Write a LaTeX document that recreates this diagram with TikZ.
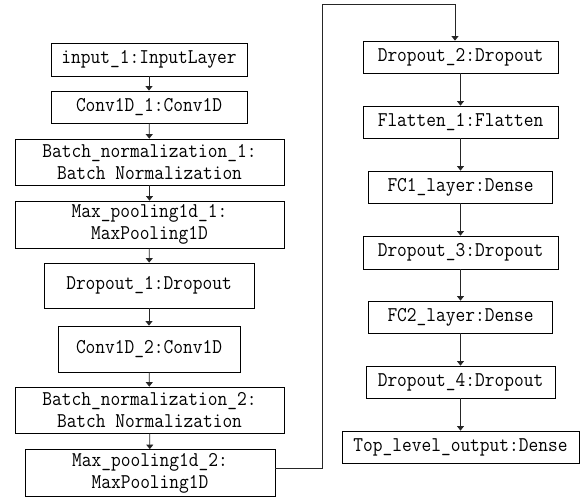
\documentclass[tikz,border=0pt]{standalone}
\usepackage{fontspec}
\newfontfamily\boxfont[FakeStretch=0.9]{Latin Modern Mono}
\usetikzlibrary{arrows.meta}
\begin{document}
\begin{tikzpicture}[x=1pt,y=-1pt,
  box/.style={draw=black, line width=0.8pt, inner sep=0pt, align=center,
    font=\boxfont\fontsize{21}{22}\selectfont},
  arr/.style={draw=black!85, line width=0.8pt, -{Triangle[length=4.5pt,width=7pt]}}]
\useasboundingbox (0,0) rectangle (583,498);
% left column
\node[box, minimum width=196, minimum height=33] (l1) at (149,59.5) {input\_1:InputLayer};
\node[box, minimum width=196, minimum height=32] (l2) at (149,107) {Conv1D\_1:Conv1D};
\node[box, minimum width=269, minimum height=46] (l3) at (149.5,162) {Batch\_normalization\_1:\\Batch Normalization};
\node[box, minimum width=269, minimum height=47] (l4) at (149.5,224.5) {Max\_pooling1d\_1:\\MaxPooling1D};
\node[box, minimum width=210, minimum height=45] (l5) at (149,285.5) {Dropout\_1:Dropout};
\node[box, minimum width=182, minimum height=46] (l6) at (149,349) {Conv1D\_2:Conv1D};
\node[box, minimum width=269, minimum height=46] (l7) at (149.5,410) {Batch\_normalization\_2:\\Batch Normalization};
\node[box, minimum width=250, minimum height=47] (l8) at (150,473) {Max\_pooling1d\_2:\\MaxPooling1D};
% right column
\node[box, minimum width=195, minimum height=32] (r1) at (460.5,57) {Dropout\_2:Dropout};
\node[box, minimum width=195, minimum height=32] (r2) at (460.5,122) {Flatten\_1:Flatten};
\node[box, minimum width=184, minimum height=32] (r3) at (460.5,187) {FC1\_layer:Dense};
\node[box, minimum width=195, minimum height=33] (r4) at (460.5,252.5) {Dropout\_3:Dropout};
\node[box, minimum width=184, minimum height=32] (r5) at (460.5,317) {FC2\_layer:Dense};
\node[box, minimum width=189, minimum height=32] (r6) at (460.5,382) {Dropout\_4:Dropout};
\node[box, minimum width=237, minimum height=32] (r7) at (460.5,447) {Top\_level\_output:Dense};
% connectors
\draw[arr] (l1) -- (l2);
\draw[arr] (l2) -- (l3);
\draw[arr] (l3) -- (l4);
\draw[arr] (l4) -- (l5);
\draw[arr] (l5) -- (l6);
\draw[arr] (l6) -- (l7);
\draw[arr] (l7) -- (l8);
\coordinate (t1) at (322,4);
\coordinate (t2) at (455,4);
\draw[arr] ([yshift=5pt]l8.east) -| (t1) -- (t2) -- (t2 |- r1.north);
\draw[arr] (r1) -- (r2);
\draw[arr] (r2) -- (r3);
\draw[arr] (r3) -- (r4);
\draw[arr] (r4) -- (r5);
\draw[arr] (r5) -- (r6);
\draw[arr] (r6) -- (r7);
\end{tikzpicture}
\end{document}
